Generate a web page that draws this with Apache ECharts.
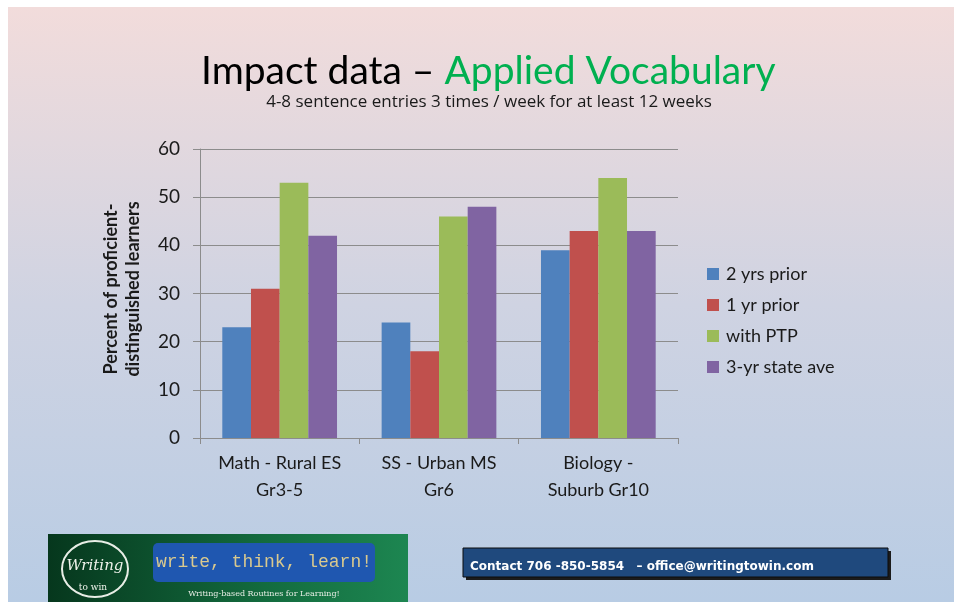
<!DOCTYPE html>
<html lang="en">
<head>
<meta charset="UTF-8">
<title>Impact data</title>
<script src="https://cdn.jsdelivr.net/npm/echarts@6/dist/echarts.min.js"></script>
<style>
  html, body { margin: 0; padding: 0; background: #fff; }
  #main { width: 954px; height: 602px; }
</style>
</head>
<body>
<div id="main"></div>
<script>
// data
var categories = ['Math - Rural ES\nGr3-5', 'SS - Urban MS\nGr6', 'Biology -\nSuburb Gr10'];
var seriesNames = ['2 yrs prior', '1 yr prior', 'with PTP', '3-yr state ave'];
var twoYrsPrior = [23, 24, 39];
var oneYrPrior = [31, 18, 43];
var withPTP = [53, 46, 54];
var stateAve = [42, 48, 43];
var colors = ['#4f81bd', '#c0504d', '#9bbb59', '#8064a2'];

var font = 'Lato, "Open Sans", sans-serif';
var chart = echarts.init(document.getElementById('main'));

var allValues = [twoYrsPrior, oneYrPrior, withPTP, stateAve];
var series = seriesNames.map(function (name, i) {
    return {
        name: name,
        type: 'bar',
        data: allValues[i],
        barGap: 0,
        barCategoryGap: '28%',
        itemStyle: { color: colors[i] }
    };
});

var option = {
    backgroundColor: '#ffffff',
    color: colors,
    animation: false,
    textStyle: { fontFamily: font },
    grid: { left: 200, right: 276, top: 149, bottom: 164 },
    legend: {
        orient: 'vertical',
        left: 702,
        top: 260,
        itemWidth: 12,
        itemHeight: 12,
        itemGap: 13,
        icon: 'rect',
        data: seriesNames,
        textStyle: { fontFamily: font, fontSize: 18, color: '#1a1a1a', padding: [0, 0, 0, 2] }
    },
    xAxis: {
        type: 'category',
        data: categories,
        axisLine: { lineStyle: { color: '#8c8c8c', width: 1 } },
        axisTick: { show: true, length: 6, lineStyle: { color: '#8c8c8c' } },
        axisLabel: { fontFamily: font, fontSize: 18, color: '#1a1a1a', margin: 12, lineHeight: 27, interval: 0 }
    },
    yAxis: {
        type: 'value',
        min: 0,
        max: 60,
        interval: 10,
        axisLine: { show: true, lineStyle: { color: '#8c8c8c', width: 1 } },
        axisTick: { show: true, length: 7, lineStyle: { color: '#8c8c8c' } },
        splitLine: { lineStyle: { color: '#8c8c8c', width: 1 } },
        axisLabel: { fontFamily: font, fontSize: 19, color: '#1a1a1a', margin: 20 }
    },
    graphic: [
        // slide background
        {
            type: 'rect', z: -10, silent: true,
            shape: { x: 8, y: 7, width: 946, height: 595 },
            style: {
                fill: {
                    type: 'linear', x: 0, y: 0, x2: 0, y2: 1,
                    colorStops: [
                        { offset: 0, color: '#f2dcdb' },
                        { offset: 0.5, color: '#cfd3e2' },
                        { offset: 1, color: '#b8cce4' }
                    ]
                }
            }
        },
        // title
        {
            type: 'text', x: 201, y: 71,
            style: {
                text: '{a|Impact data –}{b| Applied Vocabulary}',
                verticalAlign: 'middle',
                rich: {
                    a: { fontFamily: font, fontSize: 39, fill: '#000000' },
                    b: { fontFamily: font, fontSize: 39, fill: '#00b050' }
                }
            }
        },
        {
            type: 'text', x: 489, y: 102,
            style: {
                text: '4-8 sentence entries 3 times / week for at least 12 weeks',
                fontFamily: '"Open Sans", Lato, sans-serif', fontSize: 17, fill: '#1a1a1a',
                align: 'center', verticalAlign: 'middle'
            }
        },
        // y axis title
        {
            type: 'text', x: 122, y: 289, rotation: Math.PI / 2,
            style: {
                text: 'Percent of proficient-\ndistinguished learners',
                fontFamily: font, fontSize: 18, fontWeight: 'bold', fill: '#1a1a1a',
                align: 'center', verticalAlign: 'middle', lineHeight: 22
            }
        },
        // logo banner
        {
            type: 'rect', silent: true,
            shape: { x: 48, y: 534, width: 360, height: 68 },
            style: {
                fill: {
                    type: 'linear', x: 0, y: 0, x2: 1, y2: 0,
                    colorStops: [
                        { offset: 0, color: '#06371d' },
                        { offset: 0.6, color: '#136b3e' },
                        { offset: 1, color: '#1d8651' }
                    ]
                }
            }
        },
        {
            type: 'ellipse', silent: true,
            shape: { cx: 95, cy: 569, rx: 33, ry: 28 },
            style: { fill: 'none', stroke: '#e8eee6', lineWidth: 2 }
        },
        {
            type: 'text', x: 95, y: 566,
            style: {
                text: 'Writing', fontFamily: '"DejaVu Serif", serif', fontStyle: 'italic',
                fontSize: 15, fill: '#eef2ea', align: 'center', verticalAlign: 'middle'
            }
        },
        {
            type: 'text', x: 93, y: 588,
            style: {
                text: 'to win', fontFamily: '"DejaVu Serif", serif',
                fontSize: 9, fill: '#eef2ea', align: 'center', verticalAlign: 'middle'
            }
        },
        {
            type: 'rect', silent: true,
            shape: { x: 153, y: 543, width: 222, height: 39, r: 5 },
            style: { fill: '#1f57b0' }
        },
        {
            type: 'text', x: 264, y: 562,
            style: {
                text: 'write, think, learn!', fontFamily: '"Liberation Mono", "DejaVu Sans Mono", monospace',
                fontSize: 18, fill: '#d9c98e', align: 'center', verticalAlign: 'middle'
            }
        },
        {
            type: 'text', x: 264, y: 594,
            style: {
                text: 'Writing-based Routines for Learning!', fontFamily: '"DejaVu Serif", serif',
                fontSize: 8, fill: '#e6ece4', align: 'center', verticalAlign: 'middle'
            }
        },
        // contact box
        {
            type: 'rect', silent: true,
            shape: { x: 466, y: 551, width: 425, height: 29 },
            style: { fill: '#1b1b1b' }
        },
        {
            type: 'rect', silent: true,
            shape: { x: 463, y: 548, width: 425, height: 29 },
            style: { fill: '#1f497d', stroke: '#0d0d0d', lineWidth: 1 }
        },
        {
            type: 'text', x: 470, y: 567,
            style: {
                text: 'Contact 706 -850-5854   – office@writingtowin.com',
                fontFamily: '"DejaVu Sans", Verdana, sans-serif', fontWeight: 'bold',
                fontSize: 12, fill: '#ffffff', align: 'left', verticalAlign: 'middle'
            }
        }
    ],
    series: series
};

chart.setOption(option);
</script>
</body>
</html>
